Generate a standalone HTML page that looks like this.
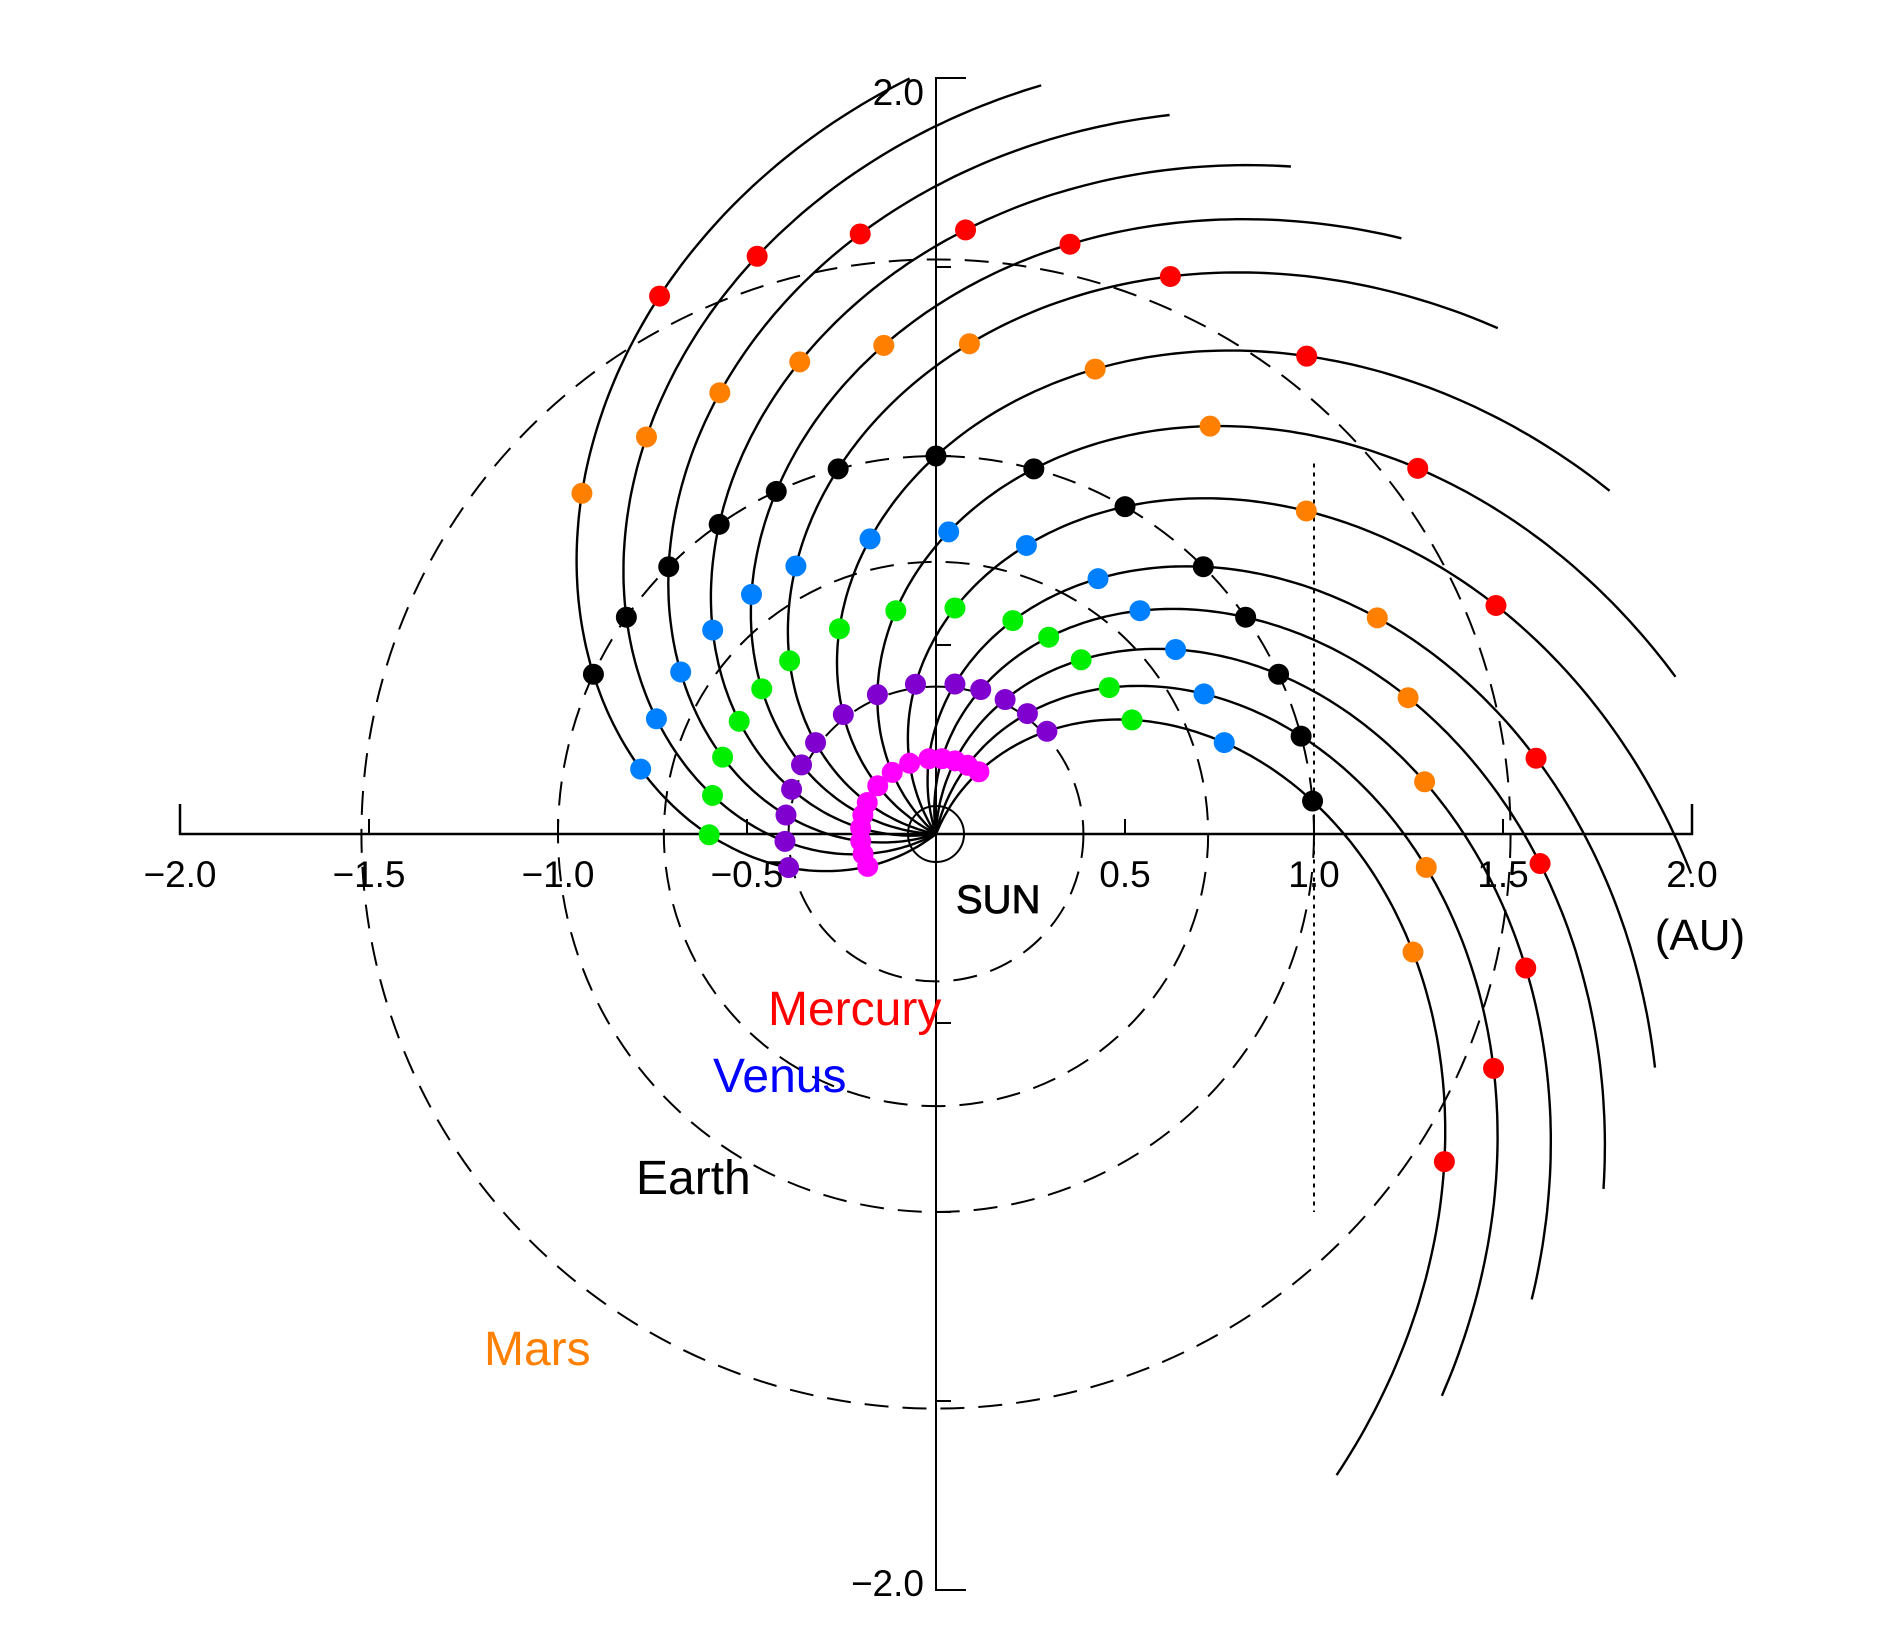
<!DOCTYPE html>
<html><head><meta charset="utf-8"><style>
html,body{margin:0;padding:0;background:#fff;}
svg{display:block;}
text{font-family:"Liberation Sans","DejaVu Sans",sans-serif;}
</style></head><body>
<svg id="s" width="1879" height="1650" viewBox="0 0 1879 1650" xmlns="http://www.w3.org/2000/svg">
<rect width="1879" height="1650" fill="#fff"/>
<g id="g"></g>
<g font-size="37" fill="#000" text-anchor="middle">
<text x="180" y="887">−2.0</text>
<text x="369" y="887">−1.5</text>
<text x="558" y="887">−1.0</text>
<text x="747" y="887">−0.5</text>
<text x="1125" y="887">0.5</text>
<text x="1314" y="887">1.0</text>
<text x="1503" y="887">1.5</text>
<text x="1692" y="887">2.0</text>
<text x="1700" y="950" font-size="44">(AU)</text>
<text x="924" y="105" text-anchor="end">2.0</text>
<text x="924" y="1596" text-anchor="end">−2.0</text>
<text x="956" y="913" text-anchor="start" font-size="40" stroke="#000" stroke-width="0.8">SUN</text>
</g>
<g font-size="48" text-anchor="start">
<text x="768" y="1025" fill="#ff0000">Mercury</text>
<text x="713" y="1092" fill="#0000ff">Venus</text>
<text x="636" y="1194" fill="#000">Earth</text>
<text x="484" y="1365" fill="#ff8000">Mars</text>
</g>
</svg>
<script>
(function(){
var ox=936,oy=834,S=378,ns="http://www.w3.org/2000/svg",g=document.getElementById('g');
function el(n,a){var e=document.createElementNS(ns,n);for(var k in a)e.setAttribute(k,a[k]);g.appendChild(e);return e;}
function P(r,d){var t=d*Math.PI/180;return [ox+S*r*Math.cos(t),oy-S*r*Math.sin(t)];}
[0.39,0.72,1.0,1.52].forEach(function(r){el('circle',{cx:ox,cy:oy,r:r*S,fill:'none',stroke:'#000','stroke-width':2,'stroke-dasharray':'24 14'});});
el('line',{x1:ox+S,y1:oy-0.98*S,x2:ox+S,y2:oy+S,stroke:'#000','stroke-width':2,'stroke-dasharray':'4 5'});
el('path',{d:'M180 804 L180 834 L1692 834 L1692 804',fill:'none',stroke:'#000','stroke-width':2.5});
el('path',{d:'M966 78 L936 78 L936 1590 L966 1590',fill:'none',stroke:'#000','stroke-width':2});
[-1.5,-1,-0.5,0.5,1,1.5].forEach(function(v){
 el('line',{x1:ox+v*S,y1:oy,x2:ox+v*S,y2:oy-15,stroke:'#000','stroke-width':2});
 el('line',{x1:ox,y1:oy-v*S,x2:ox+15,y2:oy-v*S,stroke:'#000','stroke-width':2});
});
el('circle',{cx:ox,cy:oy,r:28,fill:'none',stroke:'#000','stroke-width':2});
var phis=[5,15,25,35,45,60,75,90,105,115,125,135,145,155];
var k=63;
phis.forEach(function(p){
 var d='';for(var i=0;i<=200;i++){var r=i/100;var q=P(r,p+(1-r)*k);d+=(i?'L':'M')+q[0].toFixed(1)+' '+q[1].toFixed(1);}
 el('path',{d:d,fill:'none',stroke:'#000','stroke-width':2.4});
});
var dots=[[0.2,'#ff00ff'],[0.4,'#8000d0'],[0.6,'#00ee00'],[0.8,'#0080ff'],[1.0,'#000'],[1.3,'#ff8000'],[1.6,'#ff0000']];
dots.forEach(function(dd){phis.forEach(function(p){var q=P(dd[0],p+(1-dd[0])*k);el('circle',{cx:q[0],cy:q[1],r:10.5,fill:dd[1]});});});
})();
</script>
</body></html>
